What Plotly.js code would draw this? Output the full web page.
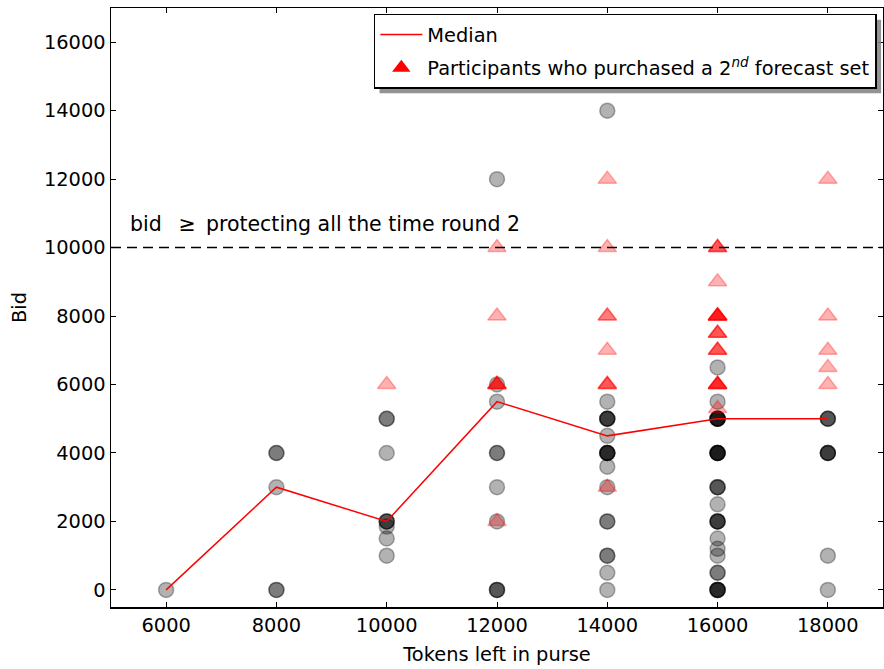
<!DOCTYPE html>
<html>
<head>
<meta charset="utf-8">
<script src="https://cdn.plot.ly/plotly-3.0.1.min.js"></script>
<style>html,body{margin:0;padding:0;background:#fff;} #chart{width:884px;height:669px;}</style>
</head>
<body>
<div id="chart"></div>
<script>
// Tokens left in purse (x positions of the columns)
var purse = [6000, 8000, 10000, 12000, 14000, 16000, 18000];
// Median bid per column
var medianBid = [0, 3000, 2000, 5500, 4500, 5000, 5000];

// Bids of participants who did not purchase a 2nd forecast set (circles), per column
var bids6000  = [0];
var bids8000  = [4000, 4000, 3000, 0, 0];
var bids10000 = [5000, 5000, 4000, 2000, 2000, 2000, 1850, 1500, 1000];
var bids12000 = [12000, 6000, 5500, 4000, 4000, 3000, 2000, 0, 0, 0];
var bids14000 = [14000, 5500, 5000, 5000, 5000, 5000, 4500, 4000, 4000, 4000, 4000, 4000, 3600, 3000, 2000, 2000, 1000, 1000, 500, 0];
var bids16000 = [6500, 5500, 5000, 5000, 5000, 5000, 5000, 5000, 4000, 4000, 4000, 4000, 4000, 4000, 3000, 3000, 3000, 2500, 2000, 2000, 2000, 2000, 1500, 1200, 1000, 500, 500, 0, 0, 0, 0, 0];
var bids18000 = [5000, 5000, 5000, 4000, 4000, 4000, 4000, 1000, 0];

// Bids of participants who purchased a 2nd forecast set (triangles), per column
var tri10000 = [6000];
var tri12000 = [10000, 8000, 6000, 6000, 6000, 6000, 2000];
var tri14000 = [12000, 10000, 8000, 8000, 7000, 6000, 6000, 6000, 3000];
var tri16000 = [10000, 10000, 10000, 9000, 8000, 8000, 8000, 8000, 8000, 8000, 7500, 7500, 7500, 7000, 7000, 7000, 6000, 6000, 6000, 6000, 6000, 5300];
var tri18000 = [12000, 8000, 7000, 6500, 6000];

var xTicks = [6000, 8000, 10000, 12000, 14000, 16000, 18000];
var yTicks = [0, 2000, 4000, 6000, 8000, 10000, 12000, 14000, 16000];
var thresholdBid = 10000;

function expand(cols, xs) {
  var X = [], Y = [];
  cols.forEach(function (c, i) {
    c.forEach(function (v) { X.push(xs[i]); Y.push(v); });
  });
  return {x: X, y: Y};
}

var circ = expand([bids6000, bids8000, bids10000, bids12000, bids14000, bids16000, bids18000], purse);
var tri = expand([tri10000, tri12000, tri14000, tri16000, tri18000], [10000, 12000, 14000, 16000, 18000]);

var traces = [
  {
    type: 'scatter', mode: 'markers', x: circ.x, y: circ.y, showlegend: false, hoverinfo: 'skip',
    marker: {symbol: 'circle', size: 15, color: 'rgba(0,0,0,0.3)', line: {color: 'rgba(0,0,0,0.3)', width: 1.5}}
  },
  {
    type: 'scatter', mode: 'markers', x: tri.x, y: tri.y, showlegend: false, hoverinfo: 'skip',
    marker: {symbol: 'triangle-up', size: 16, color: 'rgba(255,0,0,0.3)', line: {color: 'rgba(255,0,0,0.3)', width: 1.5}}
  },
  {
    type: 'scatter', mode: 'lines', x: purse, y: medianBid, name: 'Median', legendgroup: 'a',
    line: {color: '#ff0000', width: 1.5}
  },
  {
    type: 'scatter', mode: 'markers', x: [null], y: [null], legendgroup: 'b',
    name: 'Participants who purchased a 2<sup><i>nd</i></sup> forecast set',
    marker: {symbol: 'triangle-up', size: 17, color: '#ff0000'}
  }
];

var FS = 19.4;
var axisCommon = {
  showgrid: false, zeroline: false, showline: true, linecolor: '#000', linewidth: 1.5,
  mirror: 'allticks', ticks: 'inside', ticklen: 5, tickwidth: 1, tickcolor: '#000'
};

var layout = {
  width: 884, height: 669,
  margin: {l: 111, r: 1, t: 8, b: 62},
  paper_bgcolor: '#fff', plot_bgcolor: '#fff',
  font: {family: 'DejaVu Sans', color: '#000', size: FS},
  xaxis: Object.assign({}, axisCommon, {
    range: [5000, 19000], tickvals: xTicks, ticktext: xTicks.map(String),
    tickfont: {family: 'DejaVu Sans', size: FS},
    title: {text: 'Tokens left in purse', font: {family: 'DejaVu Sans', size: FS}, standoff: 11}
  }),
  yaxis: Object.assign({}, axisCommon, {
    range: [-500, 17000], tickvals: yTicks, ticktext: yTicks.map(String),
    tickfont: {family: 'DejaVu Sans', size: FS},
    title: {text: 'Bid', font: {family: 'DejaVu Sans', size: FS}, standoff: 12}
  }),
  legend: {
    x: 0.992, y: 0.99, xanchor: 'right', yanchor: 'top',
    bgcolor: '#fff', bordercolor: '#000', borderwidth: 1.5,
    font: {family: 'DejaVu Sans', size: FS},
    traceorder: 'grouped', tracegroupgap: 5, itemwidth: 42
  },
  shapes: [
    {type: 'line', xref: 'paper', x0: 0, x1: 1, yref: 'y', y0: thresholdBid, y1: thresholdBid,
     line: {color: '#000', width: 1.5, dash: '10px,6px'}},
    {type: 'rect', xref: 'paper', yref: 'paper', x0: 0.3407, x1: 0.9987, y0: 0.8614, y1: 0.9766,
     fillcolor: 'rgba(128,128,128,0.85)', line: {width: 0}, layer: 'above'}
  ],
  annotations: [
    {x: 5300, y: 10700, xref: 'x', yref: 'y', xanchor: 'left', yanchor: 'middle', showarrow: false,
     text: 'bid \u2002\u2265\u2002protecting all the time round 2', font: {family: 'DejaVu Sans', size: 20.5, color: '#000'}}
  ]
};

Plotly.newPlot('chart', traces, layout, {displayModeBar: false, staticPlot: true}).then(function (gd) {
  // place the legend shadow just behind the drawn legend box, offset down-right
  var bg = gd.querySelector('.legend .bg');
  if (!bg) return;
  var r = bg.getBoundingClientRect();
  var c = gd.getBoundingClientRect();
  var s = gd._fullLayout._size;
  var off = 5;
  var x0 = (r.left - c.left + off - s.l) / s.w;
  var x1 = (r.right - c.left + off - s.l) / s.w;
  var y1 = 1 - (r.top - c.top + off - s.t) / s.h;
  var y0 = 1 - (r.bottom - c.top + off - s.t) / s.h;
  return Plotly.relayout(gd, {'shapes[1].x0': x0, 'shapes[1].x1': x1, 'shapes[1].y0': y0, 'shapes[1].y1': y1});
});
</script>
</body>
</html>
